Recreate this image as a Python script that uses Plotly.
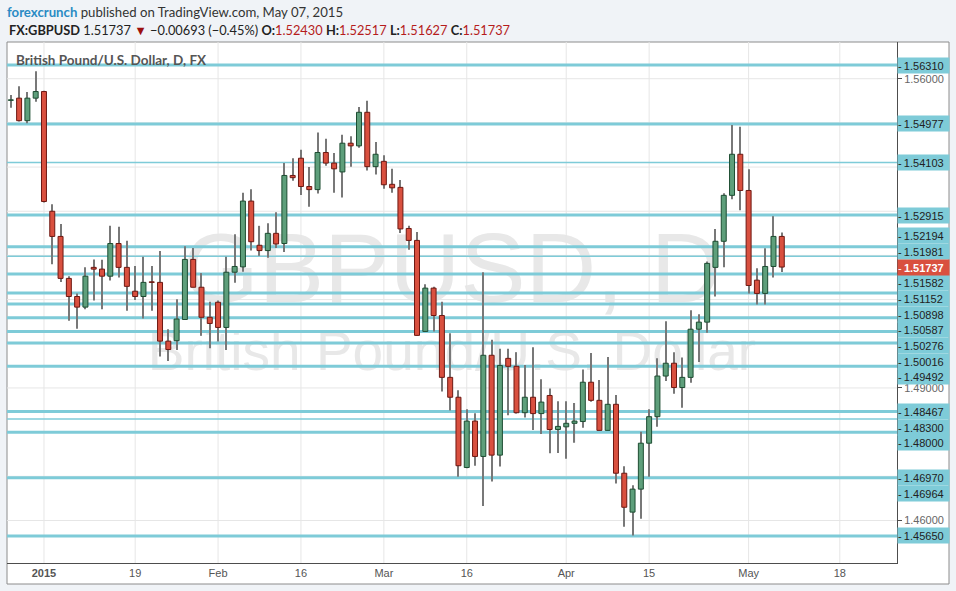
import plotly.graph_objects as go
import pandas as pd

# ---------------- data ----------------
opens = [1.5551, 1.5556, 1.5505, 1.5556, 1.5571, 1.5300, 1.5243, 1.5148, 1.5107, 1.5083,
         1.5173, 1.5169, 1.5153, 1.5227, 1.5173, 1.5119, 1.5107, 1.5140, 1.5139, 1.5006,
         1.5007, 1.5055, 1.5191, 1.5128, 1.5060, 1.5094, 1.5037, 1.5162, 1.5174, 1.5323,
         1.5223, 1.5211, 1.5250, 1.5227, 1.5381, 1.5420, 1.5356, 1.5349, 1.5433, 1.5409,
         1.5389, 1.5454, 1.5448, 1.5524, 1.5401, 1.5413, 1.5361, 1.5354, 1.5261, 1.5234,
         1.5028, 1.5126, 1.5064, 1.4924, 1.4879, 1.4720, 1.4825, 1.4745, 1.4974, 1.4748,
         1.4967, 1.4949, 1.4844, 1.4879, 1.4842, 1.4883, 1.4806, 1.4812, 1.4820, 1.4824,
         1.4913, 1.4872, 1.4804, 1.4863, 1.4707, 1.4619, 1.4671, 1.4775, 1.4835, 1.4927,
         1.4956, 1.4901, 1.4924, 1.5033, 1.5049, 1.5173, 1.5232, 1.5336, 1.5429, 1.5347,
         1.5144, 1.5114, 1.5175, 1.52430]
highs = [1.5563, 1.5583, 1.5570, 1.5617, 1.5573, 1.5316, 1.5271, 1.5153, 1.5114, 1.5173,
         1.5191, 1.5190, 1.5267, 1.5265, 1.5233, 1.5176, 1.5197, 1.5176, 1.5210, 1.5033,
         1.5101, 1.5221, 1.5217, 1.5160, 1.5095, 1.5098, 1.5197, 1.5248, 1.5342, 1.5350,
         1.5267, 1.5273, 1.5298, 1.5409, 1.5420, 1.5439, 1.5400, 1.5478, 1.5464, 1.5432,
         1.5473, 1.5470, 1.5536, 1.5550, 1.5457, 1.5427, 1.5396, 1.5371, 1.5267, 1.5253,
         1.5135, 1.5129, 1.5095, 1.5024, 1.4895, 1.4852, 1.4843, 1.5162, 1.5009, 1.4989,
         1.4989, 1.4981, 1.4952, 1.4992, 1.4920, 1.4899, 1.4870, 1.4870, 1.4866, 1.4942,
         1.4979, 1.4918, 1.4970, 1.4884, 1.4723, 1.4680, 1.4801, 1.4852, 1.4967, 1.5051,
         1.4981, 1.4969, 1.5076, 1.5067, 1.5186, 1.5260, 1.5341, 1.5495, 1.5491, 1.5395,
         1.5171, 1.5216, 1.5289, 1.52517]
lows = [1.5534, 1.5503, 1.5499, 1.5548, 1.5320, 1.5180, 1.5140, 1.5052, 1.5034, 1.5078,
        1.5098, 1.5078, 1.5143, 1.5150, 1.5075, 1.5099, 1.5057, 1.5075, 1.4971, 1.4961,
        1.4986, 1.5054, 1.5128, 1.5018, 1.4990, 1.5005, 1.4986, 1.5138, 1.5163, 1.5211,
        1.5199, 1.5195, 1.5217, 1.5208, 1.5369, 1.5337, 1.5310, 1.5340, 1.5403, 1.5342,
        1.5331, 1.5401, 1.5444, 1.5392, 1.5383, 1.5351, 1.5342, 1.5251, 1.5213, 1.5018,
        1.5027, 1.5028, 1.4892, 1.4849, 1.4699, 1.4718, 1.4724, 1.4633, 1.4688, 1.4722,
        1.4838, 1.4842, 1.4833, 1.4805, 1.4796, 1.4752, 1.4753, 1.4740, 1.4776, 1.4810,
        1.4869, 1.4804, 1.4804, 1.4684, 1.4586, 1.4566, 1.4604, 1.4699, 1.4812, 1.4916,
        1.4887, 1.4855, 1.4912, 1.4959, 1.5025, 1.5107, 1.5173, 1.5327, 1.5302, 1.5114,
        1.5089, 1.5089, 1.5150, 1.51627]
closes = [1.5552, 1.5505, 1.5556, 1.5571, 1.5322, 1.5243, 1.5148, 1.5107, 1.5083, 1.5153,
          1.5169, 1.5153, 1.5227, 1.5173, 1.5130, 1.5107, 1.5139, 1.5139, 1.5006, 1.4987,
          1.5056, 1.5191, 1.5128, 1.5060, 1.5046, 1.5037, 1.5162, 1.5175, 1.5323, 1.5231,
          1.5211, 1.5250, 1.5226, 1.5381, 1.5376, 1.5356, 1.5349, 1.5433, 1.5409, 1.5396,
          1.5454, 1.5448, 1.5524, 1.5401, 1.5429, 1.5360, 1.5353, 1.5260, 1.5234, 1.5019,
          1.5126, 1.5064, 1.4924, 1.4879, 1.4724, 1.4825, 1.4745, 1.4974, 1.4748, 1.4951,
          1.4949, 1.4844, 1.4879, 1.4842, 1.4868, 1.4806, 1.4813, 1.4820, 1.4825, 1.4913,
          1.4872, 1.4804, 1.4863, 1.4707, 1.4630, 1.4671, 1.4775, 1.4835, 1.4927, 1.4956,
          1.4901, 1.4924, 1.5033, 1.5049, 1.5182, 1.5232, 1.5336, 1.5429, 1.5347, 1.5132,
          1.5114, 1.5175, 1.52430, 1.51737]

first_day = "2014-12-29"
last_day = "2015-05-07"

tick_dates = ["2015-01-02", "2015-01-19", "2015-02-02", "2015-02-16", "2015-03-02",
              "2015-03-16", "2015-04-01", "2015-04-15", "2015-05-01", "2015-05-18"]
tick_labels = ["<b>2015</b>", "19", "Feb", "16", "Mar", "16", "Apr", "15", "May", "18"]

price_ticks = [1.46, 1.47, 1.48, 1.49, 1.50, 1.51, 1.52, 1.53, 1.54, 1.55, 1.56]

levels = [1.56310, 1.54977, 1.54103, 1.52915, 1.52194, 1.51981, 1.51582, 1.51152,
          1.50898, 1.50587, 1.50276, 1.50016, 1.49492, 1.48467, 1.48300, 1.48000,
          1.46970, 1.46964, 1.45650]
level_kind = ["thick", "thick", "thin", "thick", "thick", "thin", "thick", "thick",
              "thick", "thick", "thick", "thick", "thick", "thick", "thin", "thick",
              "thick", "thin", "thick"]

# ---------------- layout constants ----------------
W, H = 956, 591
ML, MR, MT, MB = 7, 59, 42, 28
PW, PH = W - ML - MR, H - MT - MB
YMIN, YMAX = 1.45038, 1.56831
XMIN, XMAX = -0.46, 106.9

def px_x(px):
    return (px - ML) / PW

def px_y(py):
    return (H - MB - py) / PH

PX_PER_UNIT = PH / (YMAX - YMIN)

# business-day positions (5-day FX week)
axis_days = pd.bdate_range(first_day, "2015-06-30")
pos_of = {d.strftime("%Y-%m-%d"): i for i, d in enumerate(axis_days)}
candle_days = pd.bdate_range(first_day, last_day).strftime("%Y-%m-%d")
xs = [pos_of[d] for d in candle_days]
tick_x = [pos_of[d] for d in tick_dates]

RED_FILL, RED_EDGE = "#d9503f", "#6e1812"
GRN_FILL, GRN_EDGE = "#5e9f7b", "#1d4d32"
WICK = "#787878"
CYAN = "#7ecbd8"
GRID = "#e6e6e6"
NUMFONT = "Liberation Sans, Arial, sans-serif"

fig = go.Figure()

# wicks
fig.add_trace(go.Bar(x=xs, y=[h - l for h, l in zip(highs, lows)], base=lows,
                     width=0.13, marker=dict(color=WICK, line=dict(width=0)),
                     hoverinfo="skip"))
# bodies
up = [i for i in range(len(xs)) if closes[i] >= opens[i]]
dn = [i for i in range(len(xs)) if closes[i] < opens[i]]
for idx, fill, edge in ((up, GRN_FILL, GRN_EDGE), (dn, RED_FILL, RED_EDGE)):
    fig.add_trace(go.Bar(
        x=[xs[i] for i in idx],
        y=[max(abs(closes[i] - opens[i]), 0.00012) for i in idx],
        base=[min(opens[i], closes[i]) for i in idx],
        width=0.6,
        marker=dict(color=fill, line=dict(color=edge, width=1)),
        hoverinfo="skip"))

shapes = []
# white chart panel
shapes.append(dict(type="rect", xref="paper", yref="paper",
                   x0=px_x(7), x1=px_x(949), y0=px_y(584), y1=px_y(42),
                   fillcolor="white", line=dict(color="#8c8c8c", width=1), layer="below"))
# watermark
shapes.append(dict(type="rect", xref="paper", yref="paper",
                   x0=0, x1=1, y0=px_y(259) - 0.05, y1=px_y(259) + 0.05,
                   line=dict(width=0), fillcolor="rgba(0,0,0,0)", layer="below",
                   label=dict(text="GBPUSD, D", textposition="middle center",
                              font=dict(family=NUMFONT, size=98, color="#e8e8e8"))))
shapes.append(dict(type="rect", xref="paper", yref="paper",
                   x0=0, x1=1, y0=px_y(346) - 0.03, y1=px_y(346) + 0.03,
                   line=dict(width=0), fillcolor="rgba(0,0,0,0)", layer="below",
                   label=dict(text="British Pound/U.S. Dollar", textposition="middle center",
                              font=dict(family=NUMFONT, size=55, color="#e8e8e8"))))
# grid lines (drawn as shapes so the level lines sit on top of them)
for v in price_ticks:
    shapes.append(dict(type="line", xref="x domain", yref="y", x0=0, x1=1, y0=v, y1=v,
                       line=dict(color=GRID, width=1), layer="below"))
for t in tick_x:
    shapes.append(dict(type="line", xref="x", yref="y domain", x0=t, x1=t, y0=0, y1=1,
                       line=dict(color=GRID, width=1), layer="below"))
# horizontal level lines
for lv, kind in zip(levels, level_kind):
    shapes.append(dict(type="line", xref="x domain", yref="y", x0=0, x1=1, y0=lv, y1=lv,
                       line=dict(color=CYAN, width=3 if kind == "thick" else 1.5),
                       layer="below"))

annotations = []
# header
annotations.append(dict(
    xref="paper", yref="paper", x=px_x(5), y=px_y(12), xanchor="left", yanchor="middle",
    showarrow=False,
    text="<b><span style='color:#2a8bc4'>forexcrunch</span></b> published on TradingView.com, May 07, 2015",
    font=dict(family="Lato", size=13.2, color="#333333")))
last = closes[-1]
chg = last - closes[-2]
pct = chg / closes[-2] * 100
def fmt(v):
    return f"{v:.5f}"
red = "#b51c1c"
line2 = (f"<b>FX:GBPUSD</b> {fmt(last)} <span style='color:#9c1010'>▼</span> "
         f"−{abs(chg):.5f} (−{abs(pct):.2f}%) "
         f"<b>O:</b><span style='color:{red}'>{fmt(opens[-1])}</span> "
         f"<b>H:</b><span style='color:{red}'>{fmt(highs[-1])}</span> "
         f"<b>L:</b><span style='color:{red}'>{fmt(lows[-1])}</span> "
         f"<b>C:</b><span style='color:{red}'>{fmt(last)}</span>")
annotations.append(dict(
    xref="paper", yref="paper", x=px_x(7), y=px_y(30), xanchor="left", yanchor="middle",
    showarrow=False, text=line2, font=dict(family="Lato", size=12.8, color="#222222")))
annotations.append(dict(
    xref="paper", yref="paper", x=px_x(14), y=px_y(60), xanchor="left", yanchor="middle",
    showarrow=False, text="<b>British Pound/U.S. Dollar, D, FX</b>",
    font=dict(family="Lato", size=13.5, color="#555555")))

# price labels with simple overlap avoidance around the fixed last-price label
GAP = 15.7
def natural_px(v):
    return (YMAX - v) * PX_PER_UNIT
last_px = natural_px(last)
placed = {}
prev = last_px
for v in sorted([v for v in levels if v > last]):
    p = min(natural_px(v), prev - GAP)
    placed[v] = p
    prev = p
prev = last_px
for v in sorted([v for v in levels if v <= last], reverse=True):
    p = max(natural_px(v), prev + GAP)
    placed[v] = p
    prev = p

for v in levels:
    annotations.append(dict(
        xref="paper", yref="y", x=1, y=v, xanchor="left", yanchor="middle",
        xshift=0, yshift=natural_px(v) - placed[v], showarrow=False,
        text=f"-\u2009{fmt(v)}", align="left", width=51, height=15, borderpad=0,
        bgcolor=CYAN, font=dict(family=NUMFONT, size=11, color="#222222")))
annotations.append(dict(
    xref="paper", yref="y", x=1, y=last, xanchor="left", yanchor="middle",
    showarrow=False, text=f"-\u2009<b>{fmt(last)}</b>", align="left", width=51, height=15,
    borderpad=0, bgcolor=RED_FILL,
    font=dict(family=NUMFONT, size=11, color="white")))

# price-axis tick labels that sit under a label box are covered in the original
box_centres = list(placed.values()) + [last_px]
price_ticktext = [("" if any(abs(natural_px(t) - c) < 11 for c in box_centres) else fmt(t))
                  for t in price_ticks]

fig.update_layout(
    width=W, height=H, margin=dict(l=ML, r=MR, t=MT, b=MB, pad=0),
    paper_bgcolor="#f0f3f7", plot_bgcolor="rgba(0,0,0,0)",
    barmode="overlay", showlegend=False,
    shapes=shapes, annotations=annotations,
    xaxis=dict(range=[XMIN, XMAX], tickvals=tick_x, ticktext=tick_labels,
               showgrid=False, zeroline=False,
               showline=True, linecolor="#4d4d4d", linewidth=1, ticks="",
               tickfont=dict(family="Liberation Sans Narrow, Liberation Sans, Arial",
                             size=11, color="#555555"),
               fixedrange=True),
    yaxis=dict(range=[YMIN, YMAX], side="right", tickvals=price_ticks,
               ticktext=price_ticktext,
               showgrid=False, zeroline=False,
               showline=True, linecolor="#4d4d4d", linewidth=1, ticks="outside",
               ticklen=4, tickcolor="#4d4d4d",
               tickfont=dict(family=NUMFONT, size=11, color="#666666"),
               fixedrange=True),
)

fig.write_html("out.html", config={"displayModeBar": False},
               post_script="document.body.style.margin='0';")
